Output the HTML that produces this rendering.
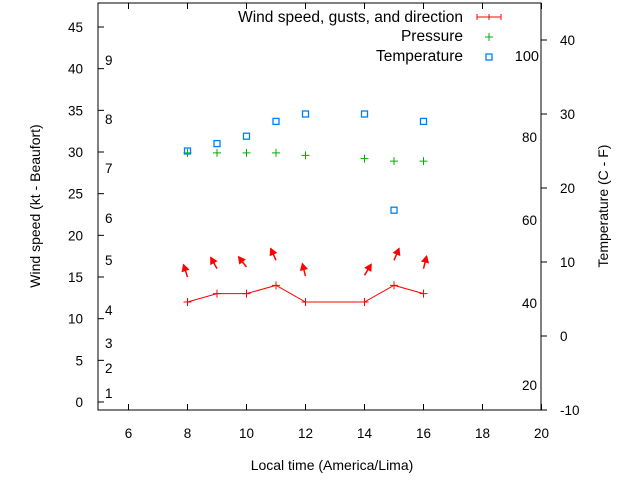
<!DOCTYPE html>
<html><head><meta charset="utf-8"><style>
body{margin:0;background:#fff}
svg{display:block;font-family:"Liberation Sans",sans-serif;font-size:13.5px}
</style></head><body>
<svg id="c" width="640" height="480" viewBox="0 0 640 480">
<rect width="640" height="480" fill="#fff"/>
<g id="g"></g>
</svg>
<script>
const hours=[8,9,10,11,12,14,15,16];
const wind=[12,13,13,14,12,12,14,13];
const gust=[15,16,16.2,17,15.1,15.2,17,16];
const dirDeg=[342,331,322,336,346,31,23,14];
const pressure=[29.9,29.9,29.9,29.9,29.6,29.2,28.9,28.9];
const tempC=[25,26,27,29,30,30,17,29];
const xTicks=[6,8,10,12,14,16,18,20];
const yTicks=[0,5,10,15,20,25,30,35,40,45];
const y2Ticks=[-10,0,10,20,30,40];
const beaufort=[[1,393],[2,368],[3,343],[4,310],[5,260],[6,218],[7,168],[8,119],[9,60]];
const fahr=[[20,385],[40,303],[60,220],[80,137]];
const L=98,R=541,T=3,B=410;
const X=v=>187.5+(v-8)*29.5;
const Y=v=>402-v*(375/45);
const Y2=v=>410-(v+10)*7.4;
const g=document.getElementById('g');
const NS='http://www.w3.org/2000/svg';
function el(t,a,name,txt){const e=document.createElementNS(NS,t);for(const k in a)e.setAttribute(k,a[k]);


if(txt!==undefined)e.textContent=txt;g.appendChild(e);return e;}
el('rect',{x:L,y:T,width:R-L,height:B-T,fill:'none',stroke:'#000','stroke-width':1},'plot-frame');
xTicks.forEach(v=>{const x=X(v);
el('line',{x1:x,y1:B,x2:x,y2:B-6,stroke:'#000'},'x-tick');
el('line',{x1:x,y1:T,x2:x,y2:T+6,stroke:'#000'},'x-tick-top');
el('text',{x:x,y:B+28,'text-anchor':'middle'},'x-tick-label',v);});
yTicks.forEach(v=>{const y=Y(v);
el('line',{x1:L,y1:y,x2:L+6,y2:y,stroke:'#000'},'y-tick');
el('text',{x:L-15,y:y+5,'text-anchor':'end'},'y-tick-label',v);});
y2Ticks.forEach(v=>{const y=Y2(v);
el('line',{x1:R,y1:y,x2:R+6,y2:y,stroke:'#000'},'y2-tick');
el('text',{x:560,y:y+5,'text-anchor':'start'},'y2-tick-label',v);});
beaufort.forEach(b=>el('text',{x:105,y:b[1]+5},'beaufort-label',b[0]));
fahr.forEach(f=>el('text',{x:537,y:f[1]+5,'text-anchor':'end'},'fahrenheit-label',f[0]));
el('text',{x:332,y:470,'text-anchor':'middle','font-size':'14px'},'x-axis-title','Local time (America/Lima)');
el('text',{x:40,y:206,'text-anchor':'middle','font-size':'14px',transform:'rotate(-90 40 206)'},'y-axis-title','Wind speed (kt - Beaufort)');
el('text',{x:608,y:206,'text-anchor':'middle','font-size':'14px',transform:'rotate(-90 608 206)'},'y2-axis-title','Temperature (C - F)');
el('polyline',{points:hours.map((h,i)=>X(h)+','+Y(wind[i])).join(' '),fill:'none',stroke:'#f00'},'wind-line');
hours.forEach((h,i)=>{const x=X(h),y=Y(wind[i]);
el('path',{d:`M${x-4},${y}h8M${x},${y-4}v8`,stroke:'#f00'},'wind-point');
const bx=x,by=Y(gust[i]),a=dirDeg[i]*Math.PI/180,len=13;
const hx=bx+Math.sin(a)*len,hy=by-Math.cos(a)*len;
el('line',{x1:bx,y1:by,x2:hx,y2:hy,stroke:'#f00','stroke-width':1.5},'wind-direction-arrow');
const ang=Math.atan2(hy-by,hx-bx),s=7;
el('path',{d:`M${hx},${hy}L${hx-s*Math.cos(ang-0.5)},${hy-s*Math.sin(ang-0.5)}L${hx-s*Math.cos(ang+0.5)},${hy-s*Math.sin(ang+0.5)}Z`,fill:'#f00',stroke:'#f00'},'arrow-head');});
hours.forEach((h,i)=>{const x=X(h),y=Y(pressure[i]);
el('path',{d:`M${x-4},${y}h8M${x},${y-4}v8`,stroke:'#00b000'},'pressure-point');});
hours.forEach((h,i)=>{const x=X(h),y=Y2(tempC[i]);
el('rect',{x:x-3,y:y-3,width:6,height:6,fill:'none',stroke:'#0080f0','stroke-width':1.3},'temperature-point');});
el('text',{x:463,y:22,'text-anchor':'end','font-size':'15.5px'},'legend-wind-label','Wind speed, gusts, and direction');
el('path',{d:'M477,17h24M477,14v6M501,14v6M489,14v6',stroke:'#f00'},'legend-wind-symbol');
el('text',{x:463,y:41,'text-anchor':'end','font-size':'15.5px'},'legend-pressure-label','Pressure');
el('path',{d:'M485,37h8M489,33v8',stroke:'#00b000'},'legend-pressure-symbol');
el('text',{x:463,y:61,'text-anchor':'end','font-size':'15.5px'},'legend-temperature-label','Temperature');
el('rect',{x:486,y:54,width:6,height:6,fill:'none',stroke:'#0080f0','stroke-width':1.3},'legend-temperature-symbol');
el('text',{x:539,y:61,'text-anchor':'end','font-size':'14.5px'},'fahrenheit-label',100);
</script>
</body></html>
